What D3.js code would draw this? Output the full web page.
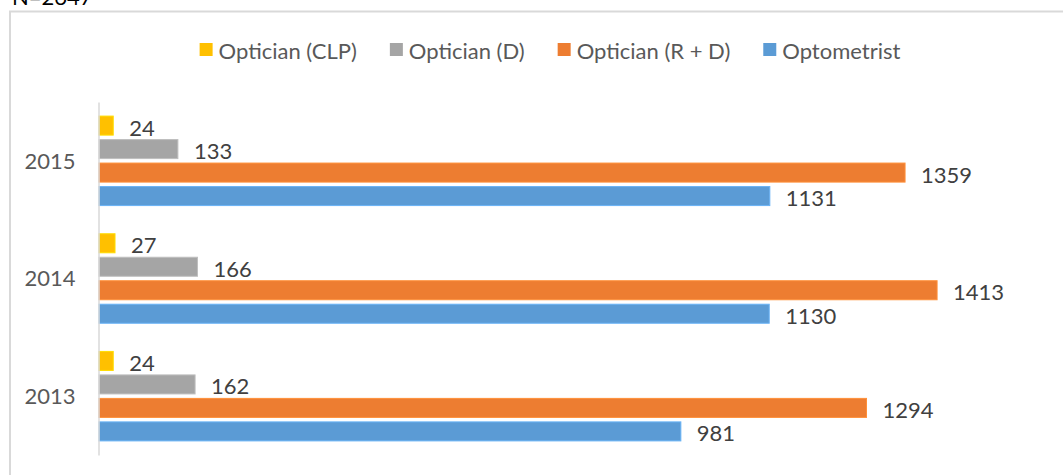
<!DOCTYPE html>
<html>
<head>
<meta charset="utf-8">
<script src="https://cdn.jsdelivr.net/npm/d3@7"></script>
<style>
  html, body { margin: 0; padding: 0; background: #fff; }
  svg { display: block; }
  text { font-family: Lato, "Open Sans", sans-serif; }
</style>
</head>
<body>
<svg id="chart" width="1063" height="475"></svg>
<script>
// ---- data ----
const years = ["2015", "2014", "2013"];
const seriesNames = ["Optician (CLP)", "Optician (D)", "Optician (R + D)", "Optometrist"];
const seriesColors = ["#FFC000", "#A5A5A5", "#ED7D31", "#5B9BD5"];
const opticianCLP = [24, 27, 24];
const opticianD = [133, 166, 162];
const opticianRD = [1359, 1413, 1294];
const optometrist = [1131, 1130, 981];
const noteText = "N=2647";

const seriesValues = [opticianCLP, opticianD, opticianRD, optometrist];

const svg = d3.select("#chart");
const FONT = 22;

// outer chart border (extends past the visible window)
svg.append("rect")
  .attr("x", 10).attr("y", 11.5)
  .attr("width", 1100).attr("height", 500)
  .attr("fill", "none")
  .attr("stroke", "#d9d9d9")
  .attr("stroke-width", 2);

// note text (cut off at the top, as in the reference)
svg.append("text")
  .attr("x", 12).attr("y", 5)
  .attr("font-size", FONT)
  .attr("fill", "#000")
  .text(noteText);

// scales
const y = d3.scaleBand().domain(years).range([102, 455]).paddingInner(0).paddingOuter(0);
const yInner = d3.scaleBand().domain(seriesNames).range([0, y.bandwidth()])
  .paddingInner(0.19).paddingOuter(0.6);
const x = d3.scaleLinear().domain([0, 1600]).range([99, 1048]);

// bars
const groups = svg.selectAll("g.year")
  .data(years)
  .join("g")
  .attr("class", "year")
  .attr("transform", d => `translate(0,${y(d)})`);

seriesNames.forEach((name, si) => {
  groups.append("rect")
    .attr("x", x(0))
    .attr("y", yInner(name))
    .attr("width", (d, i) => x(seriesValues[si][i]) - x(0))
    .attr("height", yInner.bandwidth())
    .attr("fill", seriesColors[si])
    .attr("stroke", d3.color(seriesColors[si]).brighter(0.4))
    .attr("stroke-width", 1);

  groups.append("text")
    .attr("x", (d, i) => x(seriesValues[si][i]) + 16)
    .attr("y", yInner(name) + yInner.bandwidth() / 2 + 1.5)
    .attr("dominant-baseline", "central")
    .attr("font-size", FONT)
    .attr("fill", "#404040")
    .text((d, i) => seriesValues[si][i]);
});

// category axis
const axisG = svg.append("g").attr("transform", `translate(${x(0) - 0.5},0)`);
axisG.call(d3.axisLeft(y).tickSize(0).tickPadding(23));
axisG.select(".domain").attr("stroke", "#d9d9d9").attr("stroke-width", 1.5);
axisG.selectAll(".tick text")
  .attr("font-size", FONT)
  .attr("font-family", "Lato, 'Open Sans', sans-serif")
  .attr("fill", "#595959")
  .attr("dy", "0.35em");

// legend
const legend = svg.append("g");
const items = legend.selectAll("g").data(seriesNames).join("g");
items.append("rect")
  .attr("width", 13).attr("height", 13)
  .attr("y", 43)
  .attr("fill", (d, i) => seriesColors[i]);
items.append("text")
  .attr("x", 19)
  .attr("y", 50)
  .attr("dominant-baseline", "central")
  .attr("font-size", FONT)
  .attr("fill", "#595959")
  .text(d => d);
let widths = [];
items.each(function() {
  widths.push(19 + d3.select(this).select("text").node().getComputedTextLength());
});
const gap = 33;
const total = d3.sum(widths) + gap * (widths.length - 1);
let cx = 550 - total / 2;
items.attr("transform", (d, i) => {
  const t = `translate(${cx},0)`;
  cx += widths[i] + gap;
  return t;
});
</script>
</body>
</html>
